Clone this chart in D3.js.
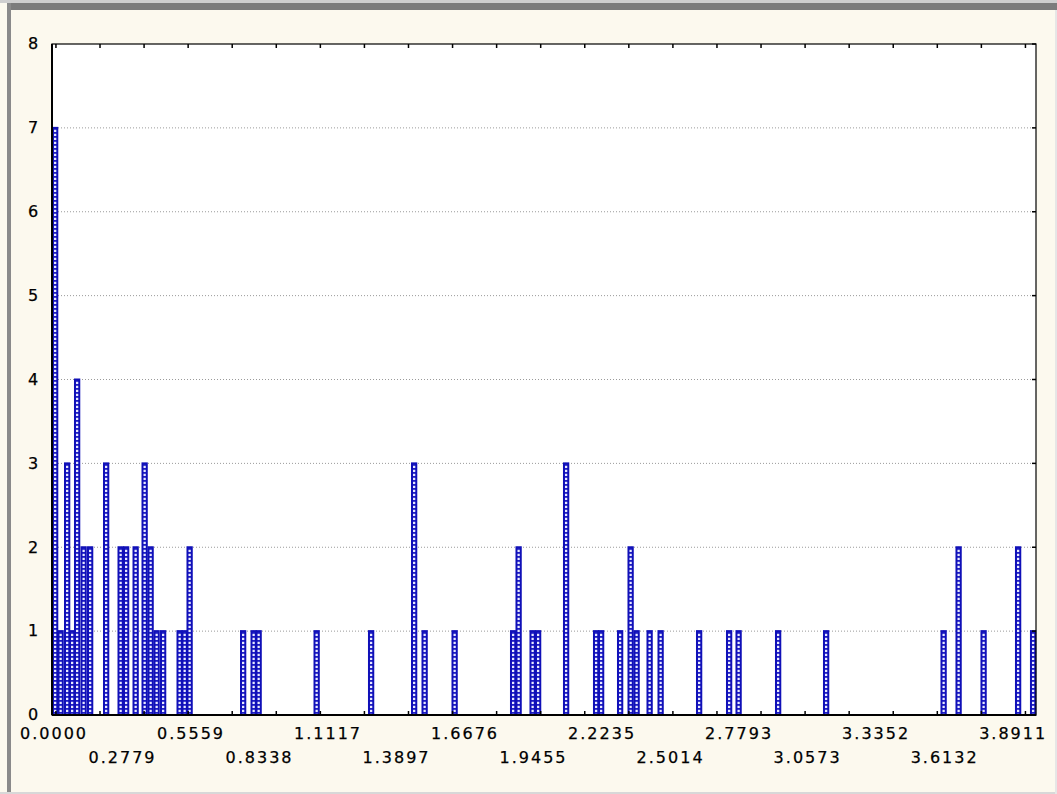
<!DOCTYPE html>
<html>
<head>
<meta charset="utf-8">
<script src="https://cdn.jsdelivr.net/npm/d3@7"></script>
<style>
  body { margin: 0; background: #fcf9ee; }
  svg { display: block; }
  .lbl { font-family: "DejaVu Sans", sans-serif; font-size: 16px; fill: #000; stroke: #000; stroke-width: 0.25px; }
</style>
</head>
<body>
<div id="chart"></div>
<script>
// left edge of each bar (x value) and its count
var barX = [
  0.0000, 0.0223, 0.0487, 0.0690, 0.0892, 0.1156, 0.1420, 0.2069, 0.2657, 0.2880,
  0.3266, 0.3631, 0.3874, 0.4118, 0.4381, 0.5051, 0.5254, 0.5456, 0.7627, 0.8053,
  0.8256, 1.0609, 1.2819, 1.4564, 1.4990, 1.6207, 1.8580, 1.8803, 1.9371, 1.9594,
  2.0730, 2.1947, 2.2150, 2.2921, 2.3347, 2.3590, 2.4118, 2.4564, 2.6126, 2.7343,
  2.7728, 2.9331, 3.1278, 3.6045, 3.6653, 3.7667, 3.9067, 3.9675
]
var barN = [
  7, 1, 3, 1, 4, 2, 2, 3, 2, 2,
  2, 3, 2, 1, 1, 1, 1, 2, 1, 1,
  1, 1, 1, 3, 1, 1, 1, 2, 1, 1,
  3, 1, 1, 1, 2, 1, 1, 1, 1, 1,
  1, 1, 1, 1, 2, 1, 2, 1
]
var barW = 0.0255

var xLabels = ['0.0000', '0.2779', '0.5559', '0.8338', '1.1117', '1.3897', '1.6676', '1.9455',
               '2.2235', '2.5014', '2.7793', '3.0573', '3.3352', '3.6132', '3.8911']
var yLabels = [0, 1, 2, 3, 4, 5, 6, 7, 8]

var xmin = 0, xmax = 3.992
var ymin = 0, ymax = 8
// small tick marks along top and bottom axes
var minorStart = 0.0160, minorStep = 0.17878

var W = 1057, H = 794
var margin = {left: 52, right: 21, top: 44, bottom: 79}
var width = W - margin.left - margin.right
var height = H - margin.top - margin.bottom

var svg = d3.select('#chart').append('svg').attr('width', W).attr('height', H)

// window frame
svg.append('rect').attr('width', W).attr('height', H).attr('fill', '#fcf9ee')
svg.append('rect').attr('x', 0).attr('y', 0).attr('width', W).attr('height', 3).attr('fill', '#cfcfcf')
svg.append('rect').attr('x', 7).attr('y', 3).attr('width', W - 7).attr('height', 7).attr('fill', '#7c7c7c')
svg.append('rect').attr('x', 7).attr('y', 3).attr('width', 4).attr('height', H - 3).attr('fill', '#8a8a8a')
svg.append('rect').attr('x', 0).attr('y', H - 2).attr('width', W).attr('height', 2).attr('fill', '#d8d8d8')
svg.append('rect').attr('x', W - 2).attr('y', 10).attr('width', 2).attr('height', H).attr('fill', '#e6e6e6')

var defs = svg.append('defs')
var pat = defs.append('pattern').attr('id', 'hatch')
  .attr('patternUnits', 'userSpaceOnUse').attr('width', 6).attr('height', 4)
pat.append('rect').attr('width', 6).attr('height', 4).attr('fill', '#e8eaff')
pat.append('rect').attr('width', 6).attr('height', 1.8).attr('fill', '#1e1ec4')

var g = svg.append('g').attr('transform', 'translate(' + margin.left + ',' + margin.top + ')')

var x = d3.scaleLinear().domain([xmin, xmax]).range([0, width])
var y = d3.scaleLinear().domain([ymin, ymax]).range([height, 0])

g.append('rect').attr('width', width).attr('height', height).attr('fill', '#fff')

// dotted grid
g.selectAll('line.grid').data(yLabels.filter(function(d){ return d > 0 && d < ymax })).enter()
  .append('line').attr('class', 'grid')
  .attr('x1', 0).attr('x2', width)
  .attr('y1', function(d){ return y(d) }).attr('y2', function(d){ return y(d) })
  .attr('stroke', '#9a9a9a').attr('stroke-width', 1).attr('stroke-dasharray', '1,2')

// bars
var bars = barX.map(function(v, i){ return {x: v, n: barN[i]} })
g.selectAll('rect.bar').data(bars).enter()
  .append('rect').attr('class', 'bar')
  .attr('x', function(d){ return x(d.x) + 1 })
  .attr('y', function(d){ return y(d.n) })
  .attr('width', function(d){ return x(d.x + barW) - x(d.x) - 2 })
  .attr('height', function(d){ return y(0) - y(d.n) })
  .attr('fill', 'url(#hatch)')
  .attr('stroke', '#1010b8').attr('stroke-width', 2)

// frame of plot
g.append('rect').attr('width', width).attr('height', height)
  .attr('fill', 'none').attr('stroke', '#000').attr('stroke-width', 1.2)
g.append('line').attr('x1', 0).attr('x2', 0).attr('y1', 0).attr('y2', height)
  .attr('stroke', '#000').attr('stroke-width', 2)
g.append('line').attr('x1', 0).attr('x2', width).attr('y1', height).attr('y2', height)
  .attr('stroke', '#000').attr('stroke-width', 2)

// minor ticks top and bottom
var minor = d3.range(minorStart, xmax, minorStep)
minor.forEach(function(v){
  g.append('line').attr('x1', x(v)).attr('x2', x(v)).attr('y1', height).attr('y2', height - 4)
    .attr('stroke', '#000').attr('stroke-width', 1.5)
  g.append('line').attr('x1', x(v)).attr('x2', x(v)).attr('y1', 0).attr('y2', 4)
    .attr('stroke', '#000').attr('stroke-width', 1.5)
})
// right axis ticks
yLabels.forEach(function(v){
  g.append('line').attr('x1', width).attr('x2', width - 4).attr('y1', y(v)).attr('y2', y(v))
    .attr('stroke', '#000').attr('stroke-width', 1.5)
})

// y labels
g.selectAll('text.ylab').data(yLabels).enter()
  .append('text').attr('class', 'lbl ylab')
  .attr('x', -19).attr('y', function(d){ return y(d) })
  .attr('text-anchor', 'middle').attr('dy', '0.33em')
  .text(function(d){ return d })

// x labels, staggered over two rows
var step = 0.277936
g.selectAll('text.xlab').data(xLabels).enter()
  .append('text').attr('class', 'lbl xlab')
  .attr('x', function(d, i){ return x(i * step) + 2 })
  .attr('y', function(d, i){ return height + (i % 2 ? 48 : 24) })
  .attr('text-anchor', 'middle')
  .style('letter-spacing', '2px')
  .text(function(d){ return d })
</script>
</body>
</html>
